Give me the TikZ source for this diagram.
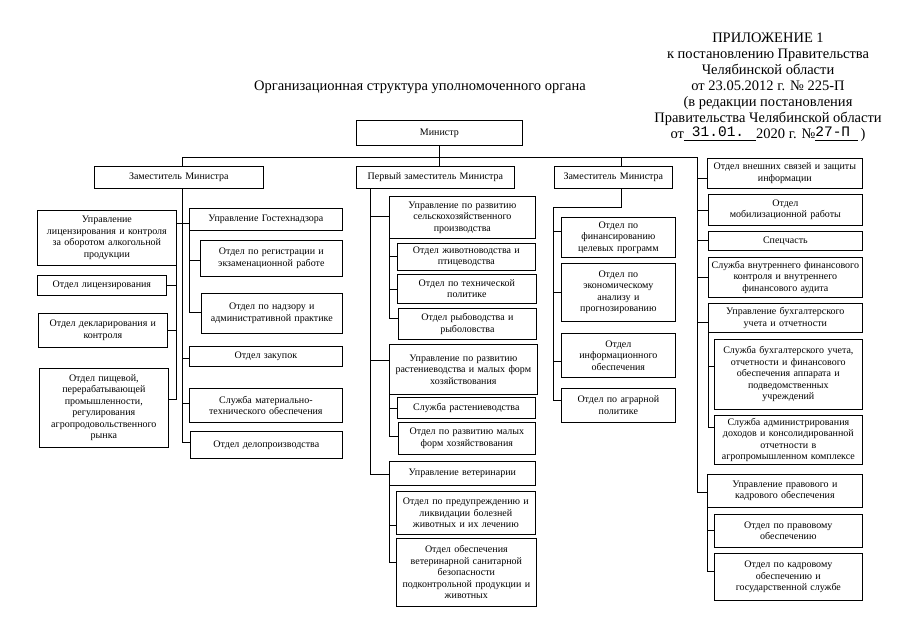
\documentclass[tikz,border=0pt]{standalone}
\usepackage{fontspec}
\setmainfont{Liberation Serif}
\newfontfamily\monof{Liberation Mono}
\tikzset{
  obox/.style={draw, line width=0.7pt, inner sep=0pt, align=center,
    font=\fontsize{10}{11.5}\selectfont, anchor=north west},
  conn/.style={line width=0.7pt},
  hdrtext/.style={font=\fontsize{14.5}{16}\selectfont, align=center, inner sep=0pt}
}
\newcommand\mkbox[6]{%
  \pgfmathsetmacro\bw{#4-#2}\pgfmathsetmacro\bh{#5-#3}\pgfmathsetmacro\tw{#4-#2-6}%
  \node[obox, minimum width=\bw pt, minimum height=\bh pt, text width=\tw pt] (#1) at (#2,#3) {#6};}
\begin{document}
\begin{tikzpicture}[x=1pt,y=-1pt]
\useasboundingbox (0,0) rectangle (905,640);
% header
\node[hdrtext, anchor=north] (hdr) at (768,33) {ПРИЛОЖЕНИЕ 1\\к постановлению Правительства\\Челябинской области\\от 23.05.2012 г. № 225-П\\(в редакции постановления\\Правительства Челябинской области\\от\underline{\hspace{8pt}\raisebox{2pt}{\monof 31.01.}\hspace{12pt}}2020 г. №\underline{\raisebox{2pt}{\monof 27-П}\hspace{8pt}}\,)};
\node[hdrtext] (title) at (420,87) {Организационная структура уполномоченного органа};
% top
\mkbox{m}{356}{120}{522}{145}{Министр}
\mkbox{d1}{94}{166}{263}{188}{Заместитель Министра}
\mkbox{d2}{356}{166}{514}{188}{Первый заместитель Министра}
\mkbox{d3}{554}{166}{672}{188}{Заместитель Министра}
% left group
\mkbox{a1}{37}{210}{176}{265}{Управление\\лицензирования и контроля\\за оборотом алкогольной\\продукции}
\mkbox{a2}{37}{275}{166}{295}{Отдел лицензирования}
\mkbox{a3}{38}{313}{167}{347}{Отдел декларирования и\\контроля}
\mkbox{a4}{39}{368}{168}{447}{Отдел пищевой,\\перерабатывающей\\промышленности,\\регулирования\\агропродовольственного\\рынка}
\mkbox{b1}{189}{208}{342}{230}{Управление Гостехнадзора}
\mkbox{b2}{200}{240}{342}{276}{Отдел по регистрации и\\экзаменационной работе}
\mkbox{b3}{201}{293}{342}{333}{Отдел по надзору и\\административной практике}
\mkbox{b4}{189}{346}{342}{366}{Отдел закупок}
\mkbox{b5}{189}{388}{342}{422}{Служба материально-\\технического обеспечения}
\mkbox{b6}{190}{431}{342}{458}{Отдел делопроизводства}
% center group
\mkbox{c1}{389}{196}{535}{238}{Управление по развитию\\сельскохозяйственного\\производства}
\mkbox{c2}{397}{243}{535}{270}{Отдел животноводства и\\птицеводства}
\mkbox{c3}{397}{274}{536}{303}{Отдел по технической\\политике}
\mkbox{c4}{398}{308}{536}{339}{Отдел рыбоводства и\\рыболовства}
\mkbox{c5}{389}{344}{537}{394}{Управление по развитию\\растениеводства и малых форм\\хозяйствования}
\mkbox{c6}{397}{397}{535}{418}{Служба растениеводства}
\mkbox{c7}{398}{422}{535}{454}{Отдел по развитию малых\\форм хозяйствования}
\mkbox{c8}{389}{461}{535}{485}{Управление ветеринарии}
\mkbox{c9}{396}{491}{535}{534}{Отдел по предупреждению и\\ликвидации болезней\\животных и их лечению}
\mkbox{c10}{396}{538}{536}{606}{Отдел обеспечения\\ветеринарной санитарной\\безопасности\\подконтрольной продукции и\\животных}
% third group
\mkbox{e1}{561}{217}{675}{257}{Отдел по\\финансированию\\целевых программ}
\mkbox{e2}{561}{263}{675}{321}{Отдел по\\экономическому\\анализу и\\прогнозированию}
\mkbox{e3}{561}{333}{675}{377}{Отдел\\информационного\\обеспечения}
\mkbox{e4}{561}{388}{675}{422}{Отдел по аграрной\\политике}
% right group
\mkbox{f1}{707}{158}{862}{188}{Отдел внешних связей и защиты\\информации}
\mkbox{f2}{708}{194}{862}{225}{Отдел\\мобилизационной работы}
\mkbox{f3}{708}{231}{862}{250}{Спецчасть}
\mkbox{f4}{708}{257}{862}{297}{Служба внутреннего финансового\\контроля и внутреннего\\финансового аудита}
\mkbox{f5}{708}{303}{862}{332}{Управление бухгалтерского\\учета и отчетности}
\mkbox{f6}{714}{339}{862}{409}{Служба бухгалтерского учета,\\отчетности и финансового\\обеспечения аппарата и\\подведомственных\\учреждений}
\mkbox{f7}{714}{415}{862}{464}{Служба администрирования\\доходов и консолидированной\\отчетности в\\агропромышленном комплексе}
\mkbox{f8}{707}{474}{862}{507}{Управление правового и\\кадрового обеспечения}
\mkbox{f9}{714}{514}{862}{547}{Отдел по правовому\\обеспечению}
\mkbox{f10}{714}{553}{862}{600}{Отдел по кадровому\\обеспечению и\\государственной службе}
% top connectors
\coordinate (busL) at (182,157);
\coordinate (busR) at (697,157);
\coordinate (busD3) at (621,157);
\draw[conn] (busL) -- (busR);
\draw[conn] (m.south) -- (m.south |- d2.north);
\draw[conn] (busL) -- (busL |- d1.north);
\draw[conn] (busD3) -- (busD3 |- d3.north);
% left group connectors
\draw[conn] (busL |- d1.south) -- (busL |- 0,442) -- (b6.west |- 0,442);
\draw[conn] (a1.east |- 0,223) -- (b1.west |- 0,223);
\draw[conn] (busL |- 0,358) -- (b4.west |- 0,358);
\draw[conn] (busL |- 0,403) -- (b5.west |- 0,403);
\draw[conn] (a1.south east) -- (a1.south east |- 0,399) -- (a4.east |- 0,399);
\draw[conn] (a2.east) -- (a1.south east |- a2.east);
\draw[conn] (a3.east) -- (a1.south east |- a3.east);
\draw[conn] (b1.south west) -- (b1.south west |- 0,312) -- (b3.west |- 0,312);
\draw[conn] (b1.south west |- 0,260) -- (b2.west |- 0,260);
% center group connectors
\coordinate (cb) at (370,188);
\draw[conn] (cb) -- (cb |- 0,474) -- (c8.west |- 0,474);
\draw[conn] (cb |- 0,216) -- (c1.west |- 0,216);
\draw[conn] (cb |- 0,360) -- (c5.west |- 0,360);
\draw[conn] (c1.south west) -- (c1.south west |- 0,318) -- (c4.west |- 0,318);
\draw[conn] (c1.south west |- 0,256) -- (c2.west |- 0,256);
\draw[conn] (c1.south west |- 0,289) -- (c3.west |- 0,289);
\draw[conn] (c5.south west) -- (c5.south west |- 0,436) -- (c7.west |- 0,436);
\draw[conn] (c5.south west |- 0,408) -- (c6.west |- 0,408);
\draw[conn] (c8.south west) -- (c8.south west |- 0,562) -- (c10.west |- 0,562);
\draw[conn] (c8.south west |- 0,525) -- (c9.west |- 0,525);
% third group connectors
\coordinate (eb) at (553,207);
\draw[conn] (busD3 |- d3.south) -- (busD3 |- eb) -- (eb) -- (eb |- 0,400) -- (e4.west |- 0,400);
\draw[conn] (eb |- 0,231) -- (e1.west |- 0,231);
\draw[conn] (eb |- 0,292) -- (e2.west |- 0,292);
\draw[conn] (eb |- 0,361) -- (e3.west |- 0,361);
% right group connectors
\draw[conn] (busR) -- (busR |- 0,492) -- (f8.west |- 0,492);
\draw[conn] (busR |- 0,178) -- (f1.west |- 0,178);
\draw[conn] (busR |- 0,210) -- (f2.west |- 0,210);
\draw[conn] (busR |- 0,240) -- (f3.west |- 0,240);
\draw[conn] (busR |- 0,277) -- (f4.west |- 0,277);
\draw[conn] (busR |- 0,322) -- (f5.west |- 0,322);
\draw[conn] (f5.south west) -- (f5.south west |- 0,427) -- (f7.west |- 0,427);
\draw[conn] (f5.south west |- 0,366) -- (f6.west |- 0,366);
\draw[conn] (f8.south west) -- (f8.south west |- 0,571) -- (f10.west |- 0,571);
\draw[conn] (f8.south west |- 0,530) -- (f9.west |- 0,530);
\end{tikzpicture}
\end{document}
